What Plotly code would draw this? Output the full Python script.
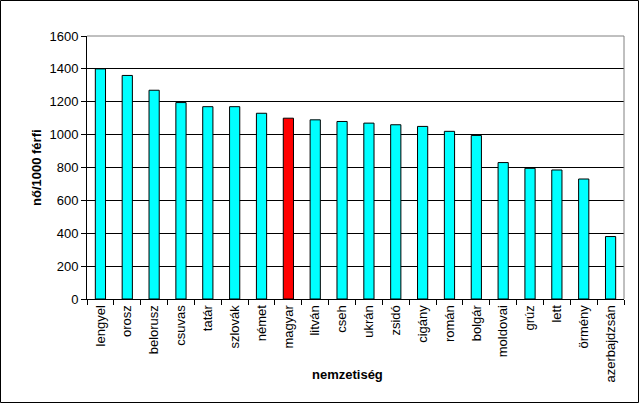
import plotly.graph_objects as go

categories = ["lengyel", "orosz", "belorusz", "csuvas", "tatár", "szlovák", "német",
              "magyar", "litván", "cseh", "ukrán", "zsidó", "cigány", "román", "bolgár",
              "moldovai", "grúz", "lett", "örmény", "azerbajdzsán"]
values = [1400, 1360, 1270, 1195, 1170, 1170, 1130, 1100, 1090, 1080, 1070, 1060,
          1050, 1020, 995, 830, 795, 785, 730, 380]
highlight = "magyar"
y_ticks = [0, 200, 400, 600, 800, 1000, 1200, 1400, 1600]

colors = ["#FF0000" if c == highlight else "#00FFFF" for c in categories]

W, H = 639, 403
L, R, T, B = 87, 15, 36, 104
pw, ph = W - L - R, H - T - B

fig = go.Figure(go.Bar(
    x=categories, y=values,
    marker=dict(color=colors, line=dict(color="black", width=1)),
    width=0.38,
))

font = dict(family="Liberation Sans, Arial, sans-serif", size=13, color="black")

fig.update_layout(
    width=W, height=H,
    margin=dict(l=L, r=R, t=T, b=B),
    paper_bgcolor="white", plot_bgcolor="white",
    font=font,
    showlegend=False,
    xaxis=dict(
        tickangle=-90, showgrid=False, showline=True, linecolor="black", linewidth=1,
        ticks="outside", tickson="boundaries", ticklen=5, tickcolor="black",
        tickfont=font, automargin=False,
    ),
    yaxis=dict(
        range=[0, 1600], tickvals=y_ticks, showgrid=True, gridcolor="black", gridwidth=1,
        showline=True, linecolor="black", linewidth=1, ticks="outside", ticklen=5,
        tickcolor="black", tickfont=font, zeroline=False, automargin=False,
    ),
    shapes=[
        dict(type="line", xref="paper", yref="paper", x0=0, x1=1, y0=1, y1=1,
             line=dict(color="#808080", width=1)),
        dict(type="line", xref="paper", yref="paper", x0=1, x1=1, y0=0, y1=1,
             line=dict(color="#808080", width=1)),
        dict(type="rect", xref="paper", yref="paper",
             x0=(0.5 - L) / pw, x1=(W - 0.5 - L) / pw,
             y0=-(B - 0.5) / ph, y1=1 + (T - 0.5) / ph,
             line=dict(color="black", width=1)),
    ],
    annotations=[
        dict(text="<b>nemzetiség</b>", xref="paper", yref="paper",
             x=(347 - L) / pw, y=-(374 - T - ph) / ph, showarrow=False,
             xanchor="center", yanchor="middle", font=font),
        dict(text="<b>nő/1000 férfi</b>", xref="paper", yref="paper",
             x=(36 - L) / pw, y=(T + ph - 168) / ph, showarrow=False, textangle=-90,
             xanchor="center", yanchor="middle", font=font),
    ],
)

fig.write_html("out.html", config={"displayModeBar": False},
               post_script="document.body.style.margin='0';")
